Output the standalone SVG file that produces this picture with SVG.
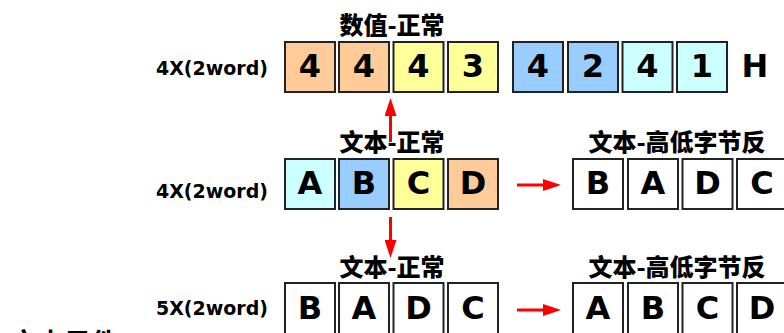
<svg xmlns="http://www.w3.org/2000/svg" width="784" height="333" viewBox="0 0 784 333">
<style>
.b{stroke:#222;stroke-width:2}
.o{fill:#FFCC99}.y{fill:#FFFF99}.bl{fill:#99CCFF}.c{fill:#CCFFFF}.w{fill:#FFFFFF}
.t{font-family:"DejaVu Sans","Noto Sans CJK SC",sans-serif;font-weight:bold;font-size:32px;text-anchor:middle;fill:#000}
.l{font-family:"DejaVu Sans","Noto Sans CJK SC",sans-serif;font-weight:bold;font-size:19px;text-anchor:end;fill:#000}
.h{font-family:"Noto Sans CJK SC","DejaVu Sans",sans-serif;font-weight:900;font-size:24px;text-anchor:middle;fill:#000}
.a{stroke:#FF0000;stroke-width:3;fill:none}
</style>
<defs>
<marker id="ah" markerWidth="6" markerHeight="4" refX="0" refY="2" orient="auto" markerUnits="strokeWidth">
<path d="M0,0 L6,2 L0,4 Z" fill="#FF0000"/>
</marker>
</defs>
<g id="row1">
<text class="h" x="392" y="34">数值-正常</text>
<text class="l" x="268" y="75">4X(2word)</text>
<g id="r1-1"><rect class="b o" x="285" y="42" width="50" height="50"/><text class="t" x="310" y="77">4</text></g>
<g id="r1-2"><rect class="b o" x="339" y="42" width="50" height="50"/><text class="t" x="364" y="77">4</text></g>
<g id="r1-3"><rect class="b y" x="393.5" y="42" width="50" height="50"/><text class="t" x="418.5" y="77">4</text></g>
<g id="r1-4"><rect class="b y" x="448" y="42" width="50" height="50"/><text class="t" x="473" y="77">3</text></g>
<g id="r1-5"><rect class="b bl" x="513" y="42" width="50" height="50"/><text class="t" x="538" y="77">4</text></g>
<g id="r1-6"><rect class="b bl" x="568" y="42" width="50" height="50"/><text class="t" x="593" y="77">2</text></g>
<g id="r1-7"><rect class="b c" x="622.5" y="42" width="50" height="50"/><text class="t" x="647.5" y="77">4</text></g>
<g id="r1-8"><rect class="b c" x="677" y="42" width="50" height="50"/><text class="t" x="702" y="77">1</text></g>
<text class="t" x="755" y="77">H</text>
</g>
<g id="row2">
<text class="h" x="392" y="151">文本-正常</text>
<text class="l" x="268" y="198">4X(2word)</text>
<g id="r2-1"><rect class="b c" x="285" y="159" width="50" height="50"/><text class="t" x="310" y="194">A</text></g>
<g id="r2-2"><rect class="b bl" x="339" y="159" width="50" height="50"/><text class="t" x="364" y="194">B</text></g>
<g id="r2-3"><rect class="b y" x="393.5" y="159" width="50" height="50"/><text class="t" x="418.5" y="194">C</text></g>
<g id="r2-4"><rect class="b o" x="448" y="159" width="50" height="50"/><text class="t" x="473" y="194">D</text></g>
<text class="h" x="677" y="151">文本-高低字节反</text>
<g id="r2-5"><rect class="b w" x="573" y="159" width="50" height="50"/><text class="t" x="598" y="194">B</text></g>
<g id="r2-6"><rect class="b w" x="628" y="159" width="50" height="50"/><text class="t" x="653" y="194">A</text></g>
<g id="r2-7"><rect class="b w" x="682.5" y="159" width="50" height="50"/><text class="t" x="707.5" y="194">D</text></g>
<g id="r2-8"><rect class="b w" x="737" y="159" width="50" height="50"/><text class="t" x="762" y="194">C</text></g>
</g>
<g id="row3">
<text class="h" x="392" y="276">文本-正常</text>
<text class="l" x="268" y="315">5X(2word)</text>
<g id="r3-1"><rect class="b w" x="285" y="283" width="50" height="60"/><text class="t" x="310" y="319">B</text></g>
<g id="r3-2"><rect class="b w" x="339" y="283" width="50" height="60"/><text class="t" x="364" y="319">A</text></g>
<g id="r3-3"><rect class="b w" x="393.5" y="283" width="50" height="60"/><text class="t" x="418.5" y="319">D</text></g>
<g id="r3-4"><rect class="b w" x="448" y="283" width="50" height="60"/><text class="t" x="473" y="319">C</text></g>
<text class="h" x="677" y="276">文本-高低字节反</text>
<g id="r3-5"><rect class="b w" x="573" y="283" width="50" height="60"/><text class="t" x="598" y="319">A</text></g>
<g id="r3-6"><rect class="b w" x="628" y="283" width="50" height="60"/><text class="t" x="653" y="319">B</text></g>
<g id="r3-7"><rect class="b w" x="682.5" y="283" width="50" height="60"/><text class="t" x="707.5" y="319">C</text></g>
<g id="r3-8"><rect class="b w" x="737" y="283" width="50" height="60"/><text class="t" x="762" y="319">D</text></g>
</g>
<text x="10" y="353" style="font-family:'Noto Sans CJK SC',sans-serif;font-weight:bold;font-size:27px">文本示件</text>
<g id="connectors">
<line class="a" x1="390.5" y1="142" x2="390.5" y2="116" marker-end="url(#ah)"/>
<line class="a" x1="390.5" y1="217" x2="390.5" y2="240" marker-end="url(#ah)"/>
<line class="a" x1="517" y1="185" x2="543" y2="185" marker-end="url(#ah)"/>
<line class="a" x1="517" y1="310" x2="543" y2="310" marker-end="url(#ah)"/>
</g>
</svg>
